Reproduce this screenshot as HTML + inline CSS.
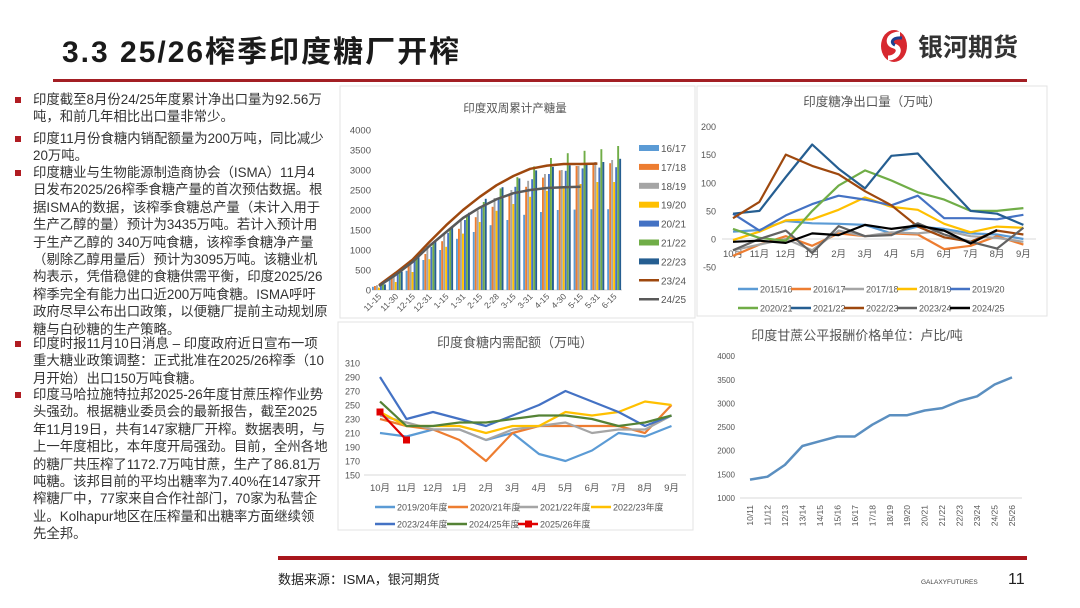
<!DOCTYPE html>
<html><head><meta charset="utf-8">
<style>
body{margin:0;width:1080px;height:608px;background:#fff;position:relative;overflow:hidden;font-family:"Liberation Sans","Noto Sans CJK SC",sans-serif;}
.abs{position:absolute;}
.para{position:absolute;left:15px;width:330px;font-size:13.4px;line-height:17.4px;color:#333;white-space:nowrap;}
.para .b{position:absolute;left:0;top:6px;width:6px;height:6px;background:#b01c22;}
.para .t{margin-left:18px;}
svg text{font-family:"Liberation Sans","Noto Sans CJK SC",sans-serif;}
</style></head><body>
<div class="abs" style="left:62px;top:27px;font-size:30px;letter-spacing:2px;font-weight:bold;color:#1a1a1a;font-family:'Liberation Sans','Noto Sans CJK SC',sans-serif;">3.3 25/26榨季印度糖厂开榨</div>
<div class="abs" style="left:53px;top:79px;width:974px;height:3px;background:#a31f24;"></div>
<svg class="abs" style="left:878px;top:28px" width="32" height="36" viewBox="0 0 32 36"><ellipse cx="16" cy="18" rx="13" ry="16" fill="#d7282f"/><path d="M22 6 C10 6 8 16 16 18 C24 20 20 30 10 30" stroke="#fff" stroke-width="5" fill="none"/><path d="M24 10 C14 9 12 15 17 17" stroke="#1d3f8f" stroke-width="3" fill="none"/></svg>
<div class="abs" style="left:918px;top:28px;font-size:25px;font-weight:bold;color:#333;">银河期货</div>

<div class="para" style="top:91px"><span class="b"></span><div class="t">印度截至8月份24/25年度累计净出口量为92.56万<br>吨，和前几年相比出口量非常少。</div></div>
<div class="para" style="top:130px"><span class="b"></span><div class="t">印度11月份食糖内销配额量为200万吨，同比减少<br>20万吨。</div></div>
<div class="para" style="top:164px"><span class="b"></span><div class="t">印度糖业与生物能源制造商协会（ISMA）11月4<br>日发布2025/26榨季食糖产量的首次预估数据。根<br>据ISMA的数据，该榨季食糖总产量（未计入用于<br>生产乙醇的量）预计为3435万吨。若计入预计用<br>于生产乙醇的 340万吨食糖，该榨季食糖净产量<br>（剔除乙醇用量后）预计为3095万吨。该糖业机<br>构表示，凭借稳健的食糖供需平衡，印度2025/26<br>榨季完全有能力出口近200万吨食糖。ISMA呼吁<br>政府尽早公布出口政策，以便糖厂提前主动规划原<br>糖与白砂糖的生产策略。</div></div>
<div class="para" style="top:335px"><span class="b"></span><div class="t">印度时报11月10日消息 – 印度政府近日宣布一项<br>重大糖业政策调整：正式批准在2025/26榨季（10<br>月开始）出口150万吨食糖。</div></div>
<div class="para" style="top:386px"><span class="b"></span><div class="t">印度马哈拉施特拉邦2025-26年度甘蔗压榨作业势<br>头强劲。根据糖业委员会的最新报告，截至2025<br>年11月19日，共有147家糖厂开榨。数据表明，与<br>上一年度相比，本年度开局强劲。目前，全州各地<br>的糖厂共压榨了1172.7万吨甘蔗，生产了86.81万<br>吨糖。该邦目前的平均出糖率为7.40%在147家开<br>榨糖厂中，77家来自合作社部门，70家为私营企<br>业。Kolhapur地区在压榨量和出糖率方面继续领<br>先全邦。</div></div>

<svg id="chart" class="abs" style="left:0;top:0" width="1080" height="608"></svg>

<div class="abs" style="left:278px;top:556px;width:749px;height:4px;background:#a8161c;"></div>
<div class="abs" style="left:278px;top:569px;font-size:13px;color:#222;">数据来源：ISMA，银河期货</div>
<div class="abs" style="left:921px;top:579px;font-size:6.5px;color:#444;">GALAXYFUTURES</div>
<div class="abs" style="left:1008px;top:571px;font-size:16px;color:#222;">11</div>

<script>
// ---- Chart 1: cumulative production ----
const c1Cats=["11-15","11-30","12-15","12-31","1-15","1-31","2-15","2-28","3-15","3-31","4-15","4-30","5-15","5-31","6-15"];
const c1BarSeries=["16/17","17/18","18/19","19/20","20/21","21/22","22/23"];
const c1Bar1617=[80,250,480,750,1000,1280,1450,1620,1750,1880,1950,2000,2010,2020,2020];
const c1Bar1718=[100,300,600,900,1220,1530,1820,2080,2400,2580,2810,2990,3100,3150,3170];
const c1Bar1819=[120,400,750,1100,1420,1720,1990,2300,2500,2730,2900,3000,3100,3200,3250];
const c1Bar1920=[60,200,450,770,1080,1410,1700,1980,2150,2330,2480,2580,2650,2700,2700];
const c1Bar2021=[140,420,730,1080,1430,1750,2060,2290,2580,2770,2900,2980,3040,3060,3070];
const c1Bar2122=[150,470,780,1150,1520,1870,2200,2540,2820,3090,3300,3420,3480,3520,3600];
const c1Bar2223=[140,460,820,1200,1570,1930,2280,2570,2790,2990,3080,3120,3160,3200,3280];
const c1Line2324=[120,430,760,1200,1620,2000,2330,2620,2850,3030,3110,3150,3150,3160,null];
const c1Line2425=[100,380,700,1100,1450,1800,2060,2270,2420,2500,2550,2570,2580,null,null];
const c1Ticks=[0,500,1000,1500,2000,2500,3000,3500,4000];
// ---- Chart 2: net export ----
const c2Cats=["10月","11月","12月","1月","2月","3月","4月","5月","6月","7月","8月","9月"];
const c2Series=["2015/16","2016/17","2017/18","2018/19","2019/20","2020/21","2021/22","2022/23","2023/24","2024/25"];
const c2S1516=[13,16,32,28,27,25,10,22,18,10,8,0];
const c2S1617=[-30,-10,5,-12,10,5,10,8,-18,-12,5,-10];
const c2S1718=[-20,-10,0,-20,15,5,12,10,15,5,2,-5];
const c2S1819=[-2,13,33,35,52,74,57,52,27,12,22,20];
const c2S1920=[45,15,42,62,77,70,60,77,37,37,35,43];
const c2S2021=[18,2,-3,50,95,122,104,83,70,50,50,55];
const c2S2122=[45,50,110,168,125,90,148,152,100,50,45,25];
const c2S2223=[37,66,150,130,115,85,60,22,3,-5,15,8];
const c2S2324=[-20,0,15,-25,23,5,7,28,8,-5,-17,20];
const c2S2425=[-5,-3,-7,10,7,25,18,24,15,-8,16,null];
const c2Ticks=[-50,0,50,100,150,200];
// ---- Chart 3: domestic quota ----
const c3Cats=["10月","11月","12月","1月","2月","3月","4月","5月","6月","7月","8月","9月"];
const c3Series=["2019/20年度","2020/21年度","2021/22年度","2022/23年度","2023/24年度","2024/25年度","2025/26年度"];
const c3S1920=[210,205,215,215,200,210,180,170,185,210,205,220];
const c3S2021=[230,220,215,200,170,210,220,220,220,220,210,250];
const c3S2122=[235,225,215,215,200,215,220,225,210,215,215,235];
const c3S2223=[240,220,220,220,210,220,220,240,235,240,255,250];
const c3S2324=[290,230,240,230,220,235,250,270,255,240,220,235];
const c3S2425=[255,220,220,225,225,230,235,235,230,220,225,235];
const c3S2526=[240,200];
const c3Ticks=[150,170,190,210,230,250,270,290,310];
// ---- Chart 4: FRP ----
const c4Cats=["10/11","11/12","12/13","13/14","14/15","15/16","16/17","17/18","18/19","19/20","20/21","21/22","22/23","23/24","24/25","25/26"];
const c4Values=[1390,1450,1700,2100,2200,2300,2300,2550,2750,2750,2850,2900,3050,3150,3400,3550];
const c4Ticks=[1000,1500,2000,2500,3000,3500,4000];

const NS="http://www.w3.org/2000/svg";
const svg=document.getElementById('chart');
function el(tag,attrs,parent,txt){const e=document.createElementNS(NS,tag);for(const k in attrs)e.setAttribute(k,attrs[k]);if(txt!==undefined)e.textContent=txt;(parent||svg).appendChild(e);return e;}
function group(name){const g=el('g',{});return g;}
function polyline(vals,xf,yf,color,w,g,name){let pts=[];vals.forEach((v,i)=>{if(v!==null&&v!==undefined)pts.push(xf(i).toFixed(1)+','+yf(v).toFixed(1));});const p=el('polyline',{points:pts.join(' '),fill:'none',stroke:color,'stroke-width':w,'stroke-linejoin':'round'},g);return p;}

// frames
[[340,86,355,232],[697,86,350,230],[338,322,355,208]].forEach((r,i)=>{const f=el('rect',{x:r[0],y:r[1],width:r[2],height:r[3],fill:'#fff',stroke:'#e3e3e3'});});

// Chart 1
(function(){
const g=group('production-chart');
const x=i=>379+i*16.8, y=v=>290-v*0.04;
const t=el('text',{x:515,y:112,'text-anchor':'middle','font-size':11.5,fill:'#555'},g,'印度双周累计产糖量');
c1Ticks.forEach(v=>{const tt=el('text',{x:371,y:y(v)+3.5,'text-anchor':'end','font-size':9.5,fill:'#555'},g,v);});
el('line',{x1:372,y1:290,x2:622,y2:290,stroke:'#d0d0d0'},g);
const colors=['#5b9bd5','#ed7d31','#a5a5a5','#ffc000','#4472c4','#70ad47','#255e91'];
const data=[c1Bar1617,c1Bar1718,c1Bar1819,c1Bar1920,c1Bar2021,c1Bar2122,c1Bar2223];
data.forEach((arr,s)=>{arr.forEach((v,i)=>{const b=el('rect',{x:x(i)-7+s*2,y:y(v),width:1.9,height:290-y(v),fill:colors[s]},g);});});
polyline(c1Line2324,x,y,'#9e480e',2.5,g,'line-23-24');
polyline(c1Line2425,x,y,'#595959',2.5,g,'line-24-25');
c1Cats.forEach((c,i)=>{const tt=el('text',{x:x(i)+3,y:297,'text-anchor':'end','font-size':8.5,fill:'#555',transform:`rotate(-45 ${x(i)+3} 297)`},g,c);});
const names=c1BarSeries.concat(['23/24','24/25']);const lc=colors.concat(['#9e480e','#595959']);
names.forEach((n,k)=>{const yy=148+k*18.9;const lg=el('g',{},g);
if(k<7)el('rect',{x:639,y:yy-3,width:20,height:6,fill:lc[k]},lg);else el('line',{x1:639,y1:yy,x2:659,y2:yy,stroke:lc[k],'stroke-width':2.5},lg);
el('text',{x:661,y:yy+4,'font-size':10,fill:'#555'},lg,n);});
})();

// Chart 2
(function(){
const g=group('net-export-chart');
const x=i=>733+i*26.4, y=v=>239-v*0.5625;
const t=el('text',{x:872,y:106,'text-anchor':'middle','font-size':12.5,fill:'#555'},g,'印度糖净出口量（万吨）');
c2Ticks.forEach(v=>{const tt=el('text',{x:716,y:y(v)+3.5,'text-anchor':'end','font-size':9,fill:'#555'},g,v);});
el('line',{x1:722,y1:239,x2:1036,y2:239,stroke:'#d9d9d9'},g);
c2Cats.forEach((c,i)=>{const tt=el('text',{x:x(i),y:257,'text-anchor':'middle','font-size':9.5,fill:'#555'},g,c);});
const colors=['#5b9bd5','#ed7d31','#a5a5a5','#ffc000','#4472c4','#70ad47','#255e91','#9e480e','#636363','#000000'];
const data=[c2S1516,c2S1617,c2S1718,c2S1819,c2S1920,c2S2021,c2S2122,c2S2223,c2S2324,c2S2425];
data.forEach((arr,s)=>polyline(arr,x,y,colors[s],2.2,g,'export-line-'+c2Series[s].replace('/','-')));
c2Series.forEach((n,k)=>{const row=Math.floor(k/5),col=k%5;const lx=738+col*53,ly=289+row*19;const lg=el('g',{},g);
el('line',{x1:lx,y1:ly,x2:lx+20,y2:ly,stroke:colors[k],'stroke-width':2.5},lg);el('text',{x:lx+22,y:ly+3.5,'font-size':9,fill:'#555'},lg,n);});
})();

// Chart 3
(function(){
const g=group('domestic-quota-chart');
const x=i=>380+i*26.5, y=v=>363+(310-v)*0.7;
const t=el('text',{x:515,y:347,'text-anchor':'middle','font-size':13,fill:'#555'},g,'印度食糖内需配额（万吨）');
c3Ticks.forEach(v=>{const tt=el('text',{x:360,y:y(v)+3.5,'text-anchor':'end','font-size':9,fill:'#555'},g,v);});
el('line',{x1:364,y1:475,x2:686,y2:475,stroke:'#d9d9d9'},g);
c3Cats.forEach((c,i)=>{const tt=el('text',{x:x(i),y:491,'text-anchor':'middle','font-size':9.5,fill:'#555'},g,c);});
const colors=['#5b9bd5','#ed7d31','#a5a5a5','#ffc000','#4472c4','#548235','#e00000'];
const data=[c3S1920,c3S2021,c3S2122,c3S2223,c3S2324,c3S2425,c3S2526];
data.forEach((arr,s)=>polyline(arr,x,y,colors[s],2.2,g,'quota-line-'+c3Series[s].slice(0,7).replace('/','-')));
c3S2526.forEach((v,i)=>{const m=el('rect',{x:x(i)-3.5,y:y(v)-3.5,width:7,height:7,fill:'#e00000'},g);});
const pos=[[375,507],[448,507],[518,507],[591,507],[375,524],[447,524],[518,524]];
c3Series.forEach((n,k)=>{const [lx,ly]=pos[k];const lg=el('g',{},g);
el('line',{x1:lx,y1:ly,x2:lx+20,y2:ly,stroke:colors[k],'stroke-width':2.5},lg);if(k==6)el('rect',{x:lx+7,y:ly-3.5,width:7,height:7,fill:colors[k]},lg);el('text',{x:lx+22,y:ly+3.5,'font-size':9,fill:'#555'},lg,n);});
})();

// Chart 4
(function(){
const g=group('frp-chart');
const x=i=>750+i*17.47, y=v=>498-(v-1000)*0.0473;
const t=el('text',{x:857,y:340,'text-anchor':'middle','font-size':13,fill:'#555'},g,'印度甘蔗公平报酬价格单位：卢比/吨');
c4Ticks.forEach(v=>{const tt=el('text',{x:735,y:y(v)+3,'text-anchor':'end','font-size':8,fill:'#555'},g,v);});
el('line',{x1:740,y1:498,x2:1022,y2:498,stroke:'#d9d9d9'},g);
polyline(c4Values,x,y,'#5b8fc0',2.5,g,'frp-line');
c4Cats.forEach((c,i)=>{const tt=el('text',{x:x(i)+3,y:505,'text-anchor':'end','font-size':8.5,fill:'#555',transform:`rotate(-90 ${x(i)+3} 505)`},g,c);});
})();
</script>
</body></html>
